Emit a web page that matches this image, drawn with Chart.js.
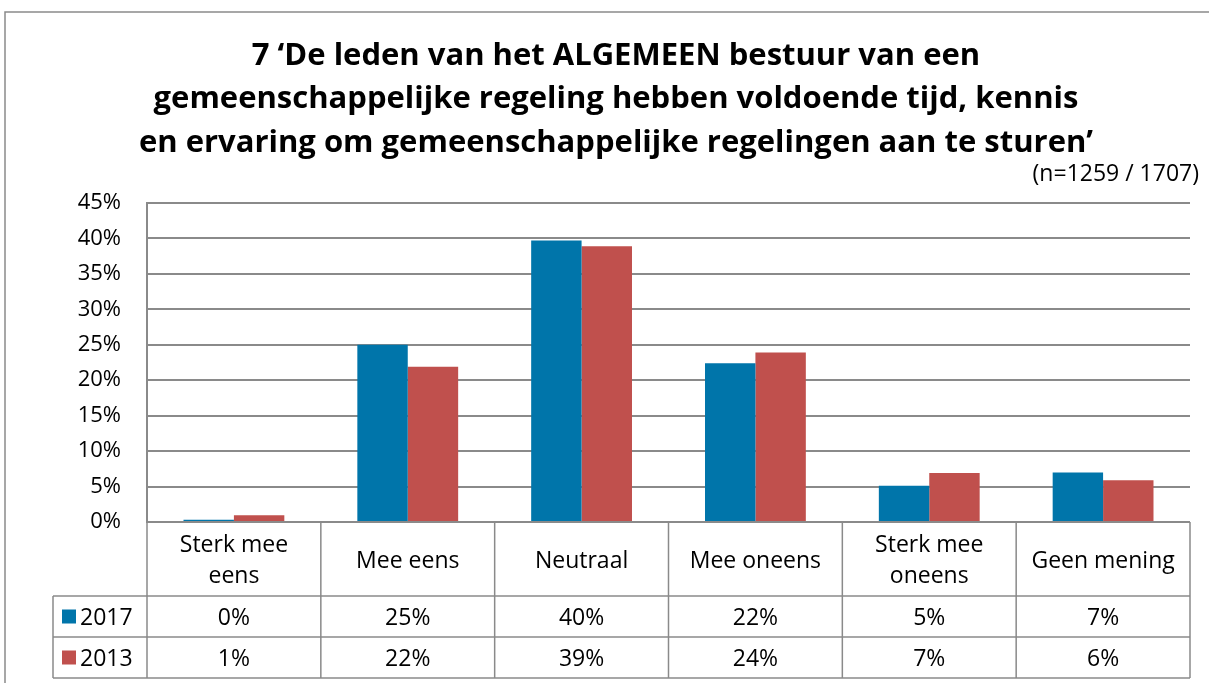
<!DOCTYPE html>
<html>
<head>
<meta charset="utf-8">
<script src="https://cdn.jsdelivr.net/npm/chart.js@4"></script>
<style>
  html, body { margin: 0; padding: 0; background: #fff; }
  #wrap { width: 1209px; height: 683px; }
</style>
</head>
<body>
<div id="wrap"><canvas id="chart" width="1209" height="683"></canvas></div>
<script>
// ─── Data ─────────────────────────────────────────────────────────────────────

const categories = [
  ['Sterk mee', 'eens'], ['Mee eens'], ['Neutraal'], ['Mee oneens'],
  ['Sterk mee', 'oneens'], ['Geen mening'],
];
const values2017 = [0.3, 25.0, 39.7, 22.4, 5.1, 7.0];
const values2013 = [0.95, 21.9, 38.9, 23.9, 6.9, 5.9];
const table2017 = ['0%', '25%', '40%', '22%', '5%', '7%'];
const table2013 = ['1%', '22%', '39%', '24%', '7%', '6%'];
const seriesNames = ['2017', '2013'];
const titleLines = [
  '7 \u2018De leden van het ALGEMEEN bestuur van een',
  'gemeenschappelijke regeling hebben voldoende tijd, kennis',
  'en ervaring om gemeenschappelijke regelingen aan te sturen\u2019',
];
const subtitle = '(n=1259 / 1707)';

const BLUE = '#0075AA';
const RED = '#C0504D';
const GRID = '#8a8a8a';
const FONT = '"Open Sans", Lato, sans-serif';

// ─── Plugins ──────────────────────────────────────────────────────────────────

const frameAndTitle = {
  id: 'frameAndTitle',
  beforeDraw(chart) {
    const ctx = chart.ctx;
    ctx.save();
    ctx.strokeStyle = GRID;
    ctx.lineWidth = 1.5;
    ctx.beginPath();
    ctx.moveTo(5, 683);
    ctx.lineTo(5, 12);
    ctx.lineTo(1209, 12);
    ctx.stroke();

    ctx.fillStyle = '#000';
    ctx.textAlign = 'center';
    ctx.textBaseline = 'middle';
    ctx.font = `bold 31px ${FONT}`;
    titleLines.forEach((line, i) => ctx.fillText(line, 616, 56 + i * 43.5));
    ctx.textAlign = 'right';
    ctx.font = `23px ${FONT}`;
    ctx.fillText(subtitle, 1199, 174);
    ctx.restore();
  },
};

const dataTable = {
  id: 'dataTable',
  afterDraw(chart) {
    const ctx = chart.ctx;
    const x = chart.scales.x;
    const area = chart.chartArea;
    const step = (x.getPixelForValue(1) - x.getPixelForValue(0));
    const edges = categories.map((_, i) => x.getPixelForValue(i) - step / 2);
    edges.push(x.getPixelForValue(categories.length - 1) + step / 2);

    const top = area.bottom;
    const row1 = top + 74;
    const row2 = row1 + 41;
    const bottom = row2 + 41;
    const legLeft = 53;

    ctx.save();
    ctx.strokeStyle = GRID;
    ctx.lineWidth = 1.5;
    ctx.beginPath();
    [row1, row2, bottom].forEach(y => { ctx.moveTo(legLeft, y); ctx.lineTo(edges[edges.length - 1], y); });
    edges.forEach(ex => { ctx.moveTo(ex, top); ctx.lineTo(ex, bottom); });
    ctx.moveTo(legLeft, row1); ctx.lineTo(legLeft, bottom);
    ctx.stroke();

    ctx.fillStyle = '#000';
    ctx.textAlign = 'center';
    ctx.textBaseline = 'middle';
    ctx.font = `23px ${FONT}`;
    categories.forEach((lines, i) => {
      const cx = x.getPixelForValue(i);
      const cy = (top + row1) / 2 + 2;
      lines.forEach((l, j) => ctx.fillText(l, cx, cy + (j - (lines.length - 1) / 2) * 31));
      ctx.fillText(table2017[i], cx, (row1 + row2) / 2 + 2);
      ctx.fillText(table2013[i], cx, (row2 + bottom) / 2 + 2);
    });

    [[BLUE, row1, row2], [RED, row2, bottom]].forEach(([col, a, b], k) => {
      const cy = (a + b) / 2;
      ctx.fillStyle = col;
      ctx.fillRect(62, cy - 7, 14, 14);
      ctx.fillStyle = '#000';
      ctx.textAlign = 'left';
      ctx.fillText(seriesNames[k], 80, cy + 2);
    });
    ctx.restore();
  },
};

// ─── Chart ────────────────────────────────────────────────────────────────────

new Chart(document.getElementById('chart'), {
  type: 'bar',
  data: {
    labels: categories.map(c => c.join(' ')),
    datasets: [
      { label: seriesNames[0], data: values2017, backgroundColor: BLUE },
      { label: seriesNames[1], data: values2013, backgroundColor: RED },
    ],
  },
  options: {
    responsive: false,
    animation: false,
    layout: { padding: { top: 203, right: 19, bottom: 161, left: 0 } },
    datasets: { bar: { barPercentage: 1, categoryPercentage: 0.58 } },
    plugins: { legend: { display: false }, title: { display: false }, tooltip: { enabled: false } },
    scales: {
      x: {
        ticks: { display: false },
        grid: { display: false },
        border: { display: false },
        afterFit: s => { s.height = 0; },
      },
      y: {
        min: 0, max: 45,
        ticks: {
          stepSize: 5,
          color: '#000',
          padding: 26,
          font: { family: FONT, size: 22 },
          callback: v => v + '%',
        },
        grid: { color: GRID, lineWidth: 2, drawTicks: false },
        border: { color: GRID, width: 2 },
        afterFit: s => { s.width = 147; },
      },
    },
  },
  plugins: [frameAndTitle, dataTable],
});
</script>
</body>
</html>
